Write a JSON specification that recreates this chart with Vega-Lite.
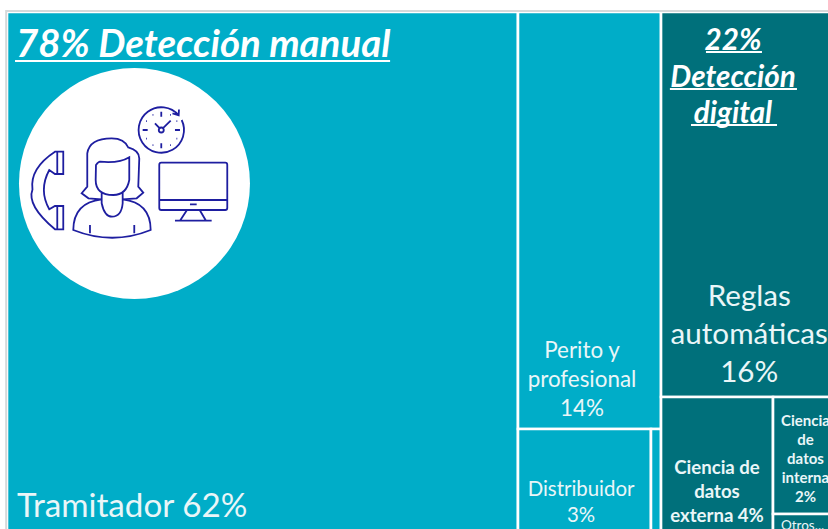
{"$schema":"https://vega.github.io/schema/vega-lite/v6.json","width":828,"height":529,"padding":0,"autosize":{"type":"none"},"background":"white","config":{"view":{"stroke":null}},
"encoding":{"x":{"field":"xa","type":"quantitative","axis":null,"scale":{"domain":[-0.836,98.09],"nice":false,"zero":false}},"y":{"field":"ya","type":"quantitative","axis":null,"scale":{"domain":[-2.27,97.92],"nice":false,"zero":false,"reverse":true}}},
"layer":[
{"data":{"values":[
{"nombre":"Tramitador","grupo":"manual","pct":62,"xa":0,"xb":61.05,"ya":0,"yb":100},
{"nombre":"Perito y profesional","grupo":"manual","pct":14,"xa":61.05,"xb":78.14,"ya":0,"yb":78.98},
{"nombre":"Distribuidor","grupo":"manual","pct":3,"xa":61.05,"xb":76.94,"ya":78.98,"yb":100},
{"nombre":"Otro manual","grupo":"manual","pct":0.3,"xa":76.94,"xb":78.14,"ya":78.98,"yb":100},
{"nombre":"Reglas automáticas","grupo":"digital","pct":16,"xa":78.14,"xb":100,"ya":0,"yb":72.92},
{"nombre":"Ciencia de datos externa","grupo":"digital","pct":4,"xa":78.14,"xb":91.52,"ya":72.92,"yb":100},
{"nombre":"Ciencia de datos interna","grupo":"digital","pct":2,"xa":91.52,"xb":100,"ya":72.92,"yb":95.08},
{"nombre":"Otros...","grupo":"digital","pct":0.4,"xa":91.52,"xb":100,"ya":95.08,"yb":100}]},
"mark":{"type":"rect","stroke":"white","strokeWidth":2.6},
"encoding":{"x2":{"field":"xb"},"y2":{"field":"yb"},"color":{"field":"grupo","type":"nominal","legend":null,"scale":{"domain":["manual","digital"],"range":["#00ADC8","#00707B"]}}}},
{"data":{"values":[{"marco":"borde","xa":-0.1,"xb":105,"ya":-0.2,"yb":105}]},"mark":{"type":"rect","fill":null,"stroke":"#D6D9DA","strokeWidth":2},"encoding":{"x2":{"field":"xb"},"y2":{"field":"yb"}}},
{"data":{"values":[{"icono":"círculo","xa":15.23,"ya":32.48}]},"mark":{"type":"point","shape":"circle","filled":true,"fill":"white","opacity":1,"size":53361}},
{"data":{"values":[{"icono":"agente","xa":15.23,"ya":32.48}]},"mark":{"type":"point","filled":false,"fill":null,"stroke":"#1E1EA0","strokeWidth":1.8,"opacity":1,"size":4,
"shape":"M47.2 -63.5A22.7 22.7 0 1 1 44.2 -68.1M38 -70L44.2 -68.1L44.5 -74M24.8 -55.5L20.5 -60.2M28.8 -55.5L36.2 -62.8M29.3 -53.5A2.5 2.5 0 1 1 24.3 -53.5A2.5 2.5 0 1 1 29.3 -53.5M26.8 -71.8L26.8 -66.8M26.8 -40.2L26.8 -35.2M40.5 -53.5L45.5 -53.5M8.2 -53.5L13.2 -53.5M35.6 -68.7h.8M18.1 -68.7h.8M35.6 -38.3h.8M18.1 -38.3h.8M42 -62.3h.8M11.6 -62.3h.8M42 -44.8h.8M11.6 -44.8h.8M26.8 -20.8H90.8Q92.8 -20.8 92.8 -18.8V24.5Q92.8 26.5 90.8 26.5H26.8Q24.8 26.5 24.8 24.5V-18.8Q24.8 -20.8 26.8 -20.8ZM24.8 16.5H92.8M55.5 20.8H62.2M52.2 27L45.5 37.2M65.5 27L71.5 37.2M40.5 37.2H77.2M-71.2 -31.8L-71.2 -9.5L-79.5 -9.5L-85.2 -13.5Q-96 6.5 -85.2 25.8L-79.5 22.5L-71.2 22.5L-71.2 45.8L-79.5 45.8Q-108 22 -102 6Q-105 -15 -79.5 -31.8ZM-77.2 -31L-77.2 -10M-77.2 23L-77.2 45M-32.8 15.8L-46 14.8L-52.8 9.8L-47.2 3.2L-47.2 -30.2Q-45 -45.2 -22.8 -45.2Q-10 -45.2 -6.2 -36Q4.8 -33 4.8 -25L3.8 3.2L8.8 9.2L2.2 14.8L-11.8 15.8M-38.5 -18.5Q-36 -21.8 -34.5 -21.8Q-15 -20 -5.2 -26.2L-5.2 -3.5Q-8 11.5 -21.2 11.5Q-38.8 11.5 -38.8 -3.5ZM-32.8 9L-32.8 19.8Q-30 33.2 -22.5 33.2Q-13 33.2 -11.8 19.8L-11.8 9M-32.8 15.8Q-61 19 -61.2 46.5Q-22 62 16.2 46.5Q16.2 19 -11.8 15.8M-44.5 41.5L-44.5 49.8M-0.2 41.5L-0.2 49.8"}},
{"data":{"values":[{"xa":0.96,"xb":45.77,"ya":9.28},{"xa":83.51,"xb":90.2,"ya":7.58},{"xa":79.2,"xb":94.38,"ya":14.58},{"xa":81.72,"xb":92,"ya":21.4}]},"mark":{"type":"rule","color":"white","strokeWidth":2},"encoding":{"x2":{"field":"xb"}}},
{"data":{"values":[{"t":"78% Detección manual","xa":1.07,"ya":8.5}]},"mark":{"type":"text","font":"Lato","fontSize":38.4,"fontWeight":"bold","fontStyle":"italic","align":"left","baseline":"alphabetic","color":"white"},"encoding":{"text":{"field":"t"}}},
{"data":{"values":[{"t":"22%\nDetección\ndigital","xa":86.74,"ya":7.2}]},"mark":{"type":"text","font":"Lato","fontSize":29.6,"fontWeight":"bold","fontStyle":"italic","align":"center","baseline":"alphabetic","color":"white","lineBreak":"\n","lineHeight":36.5},"encoding":{"text":{"field":"t"}}},
{"data":{"values":[{"t":"Reglas\nautomáticas\n16%","xa":88.68,"ya":55.6}]},"mark":{"type":"text","font":"Lato","fontSize":29.6,"align":"center","baseline":"alphabetic","color":"#EAF6F8","lineBreak":"\n","lineHeight":38},"encoding":{"text":{"field":"t"}}},
{"data":{"values":[{"t":"Tramitador 62%","xa":1.19,"ya":95.64}]},"mark":{"type":"text","font":"Lato","fontSize":33.2,"align":"left","baseline":"alphabetic","color":"#EAF6F8"},"encoding":{"text":{"field":"t"}}},
{"data":{"values":[{"t":"Perito y\nprofesional\n14%","xa":68.7,"ya":65.6}]},"mark":{"type":"text","font":"Lato","fontSize":22.4,"align":"center","baseline":"alphabetic","color":"#EAF6F8","lineBreak":"\n","lineHeight":29},"encoding":{"text":{"field":"t"}}},
{"data":{"values":[{"t":"Distribuidor\n3%","xa":68.58,"ya":91.67}]},"mark":{"type":"text","font":"Lato","fontSize":20.4,"align":"center","baseline":"alphabetic","color":"#EAF6F8","lineBreak":"\n","lineHeight":26},"encoding":{"text":{"field":"t"}}},
{"data":{"values":[{"t":"Ciencia de\ndatos\nexterna 4%","xa":84.83,"ya":87.5}]},"mark":{"type":"text","font":"Lato","fontSize":18.6,"fontWeight":"bold","align":"center","baseline":"alphabetic","color":"#EAF6F8","lineBreak":"\n","lineHeight":24},"encoding":{"text":{"field":"t"}}},
{"data":{"values":[{"t":"Ciencia\nde\ndatos\ninterna\n2%","xa":95.4,"ya":78.41}]},"mark":{"type":"text","font":"Lato","fontSize":15,"fontWeight":"bold","align":"center","baseline":"alphabetic","color":"#EAF6F8","lineBreak":"\n","lineHeight":19},"encoding":{"text":{"field":"t"}}},
{"data":{"values":[{"t":"Otros...","xa":92.47,"ya":98.1}]},"mark":{"type":"text","font":"Lato","fontSize":13.5,"align":"left","baseline":"alphabetic","color":"#EAF6F8"},"encoding":{"text":{"field":"t"}}}
]}
